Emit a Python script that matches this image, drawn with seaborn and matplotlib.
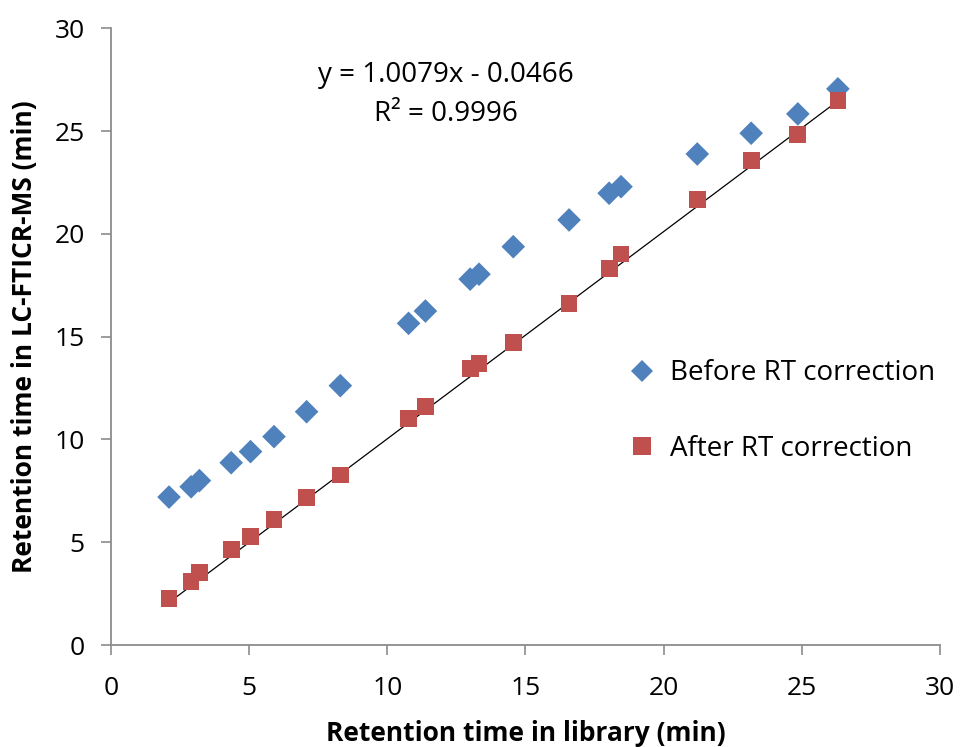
import numpy as np
import pandas as pd
import matplotlib
matplotlib.use('Agg')
import matplotlib.pyplot as plt
import seaborn as sns

## DATA
# retention time in library (min), shared by both series
rt_library = [2.1, 2.9, 3.2, 4.35, 5.05, 5.9, 7.08, 8.3, 10.77, 11.38,
              13.0, 13.32, 14.56, 16.58, 18.03, 18.46, 21.22, 23.17, 24.86, 26.31]
# retention time in LC-FTICR-MS before correction
rt_before = [7.2, 7.7, 8.0, 8.87, 9.41, 10.14, 11.35, 12.62, 15.65, 16.25,
             17.8, 18.04, 19.38, 20.68, 21.98, 22.3, 23.89, 24.9, 25.84, 27.06]
# after correction
rt_after = [2.27, 3.08, 3.52, 4.66, 5.27, 6.12, 7.19, 8.27, 11.03, 11.6,
            13.46, 13.7, 14.71, 16.63, 18.33, 19.03, 21.69, 23.57, 24.82, 26.49]
# trendline of the corrected series
slope = 1.0079
intercept = -0.0466
r2 = 0.9996

series = ['Before RT correction', 'After RT correction']

df = pd.DataFrame({
    'library': rt_library * 2,
    'measured': rt_before + rt_after,
    'series': [series[0]] * len(rt_library) + [series[1]] * len(rt_library),
})

## PLOT
sns.set_style('white')
plt.rcParams['font.family'] = ['Open Sans', 'DejaVu Sans']
plt.rcParams['text.color'] = 'black'
plt.rcParams['axes.labelcolor'] = 'black'
plt.rcParams['xtick.color'] = 'black'
plt.rcParams['ytick.color'] = 'black'

fig = plt.figure(figsize=(9.61, 7.47), dpi=100)
ax = fig.add_axes([0.1155, 0.1365, 0.8625, 0.8255])

# trendline first so markers sit on top
xs = np.array([min(rt_library), max(rt_library)])
ax.plot(xs, slope * xs + intercept, color='black', lw=0.9, zorder=1)

sns.scatterplot(data=df, x='library', y='measured', hue='series', style='series',
                palette={series[0]: '#4F81BD', series[1]: '#C0504D'},
                markers={series[0]: 'D', series[1]: 's'},
                s=145, linewidth=0, ax=ax, zorder=2, legend=True)

# trendline equation, Excel style
ax.text(12.12, 27.75, 'y = {:.4f}x - {:.4f}'.format(slope, -intercept),
        ha='center', va='center', fontsize=20)
ax.text(12.12, 25.85, 'R² = {:.4f}'.format(r2), ha='center', va='center', fontsize=20)

ax.set_xlim(0, 30)
ax.set_ylim(0, 30)
ax.set_xticks(range(0, 31, 5))
ax.set_yticks(range(0, 31, 5))
ax.tick_params(axis='both', labelsize=19, direction='out', length=7, width=1.2,
               color='#8c8c8c', pad=12, left=True, bottom=True)
ax.tick_params(axis='x', pad=15)
ax.set_xlabel('Retention time in library (min)', fontsize=19, fontweight='bold', labelpad=14)
ax.set_ylabel('Retention time in LC-FTICR-MS (min)', fontsize=19, fontweight='bold', labelpad=12)

for side in ['top', 'right']:
    ax.spines[side].set_visible(False)
for side in ['left', 'bottom']:
    ax.spines[side].set_color('#8c8c8c')
    ax.spines[side].set_linewidth(1.3)

leg = ax.legend(loc='center left', bbox_to_anchor=(0.6535, 0.4497),
                bbox_transform=fig.transFigure, frameon=False, fontsize=20,
                labelspacing=1.7, handlelength=1.0, handletextpad=0.5,
                borderpad=0, borderaxespad=0, title=None)
handles = leg.legend_handles
handles[0].set_markersize(11)
handles[1].set_markersize(13)

fig.savefig('out.png', dpi=100)
